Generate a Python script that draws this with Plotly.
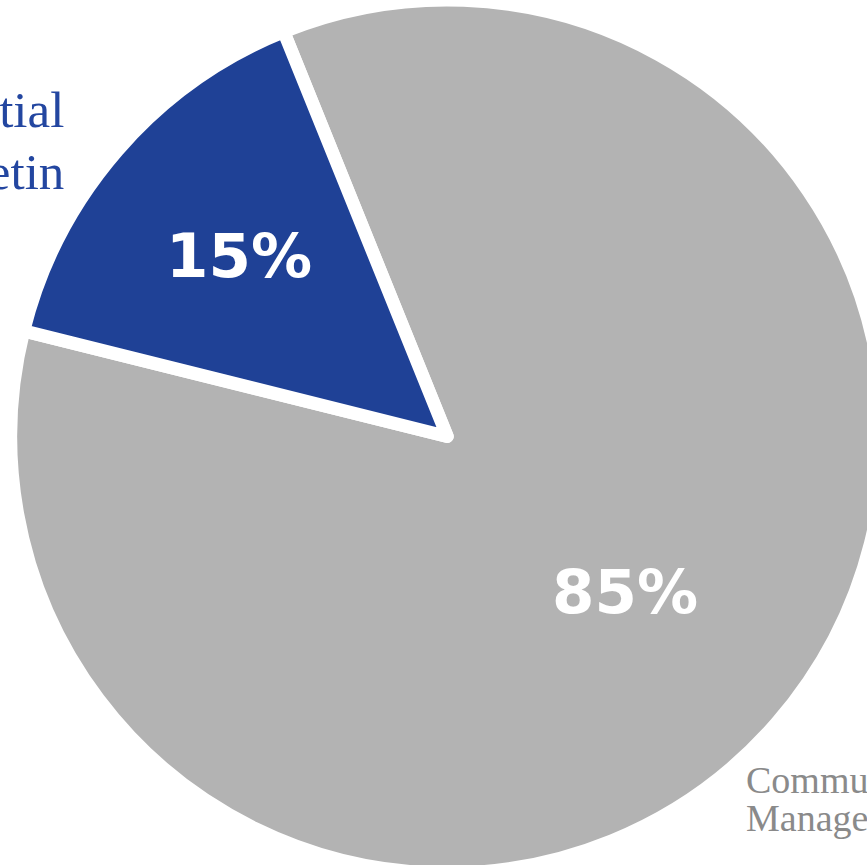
import math
import plotly.graph_objects as go

categories = ["Community Management", "Potential Bulletin"]
values = [85, 15]
colors = ["#b3b3b3", "#1f4196"]
rotation = -22

W, H = 884, 873
CX, CY, R = 447.0, 436.5, 436.5   # pie centre/radius in px (domain below)

fig = go.Figure(go.Pie(
    labels=categories,
    values=values,
    sort=False,
    direction="clockwise",
    rotation=rotation,
    marker=dict(colors=colors, line=dict(color="white", width=13)),
    textinfo="none",
    showlegend=False,
    hoverinfo="label+percent",
    domain=dict(x=[10.5 / W, 1], y=[0, 1]),
))

def px(x, y):
    return x / W, 1 - y / H

ann = []
# percentage labels placed along each slice's bisector
total = sum(values)
start = rotation
radial_frac = [0.54, 0.632]
for v, f in zip(values, radial_frac):
    span = 360 * v / total
    mid = math.radians(start + span / 2)
    start += span
    x, y = px(CX + f * R * math.sin(mid), CY - f * R * math.cos(mid))
    ann.append(dict(text=f"{round(100 * v / total)}%", x=x, y=y, xref="paper", yref="paper",
                    xanchor="center", yanchor="middle", showarrow=False,
                    font=dict(family="DejaVu Sans", size=61, color="white", weight="bold")))

# left label (blue, cropped)
for txt, yy in [("Potential", 110), ("Bulletin", 172)]:
    x, y = px(66, yy)
    ann.append(dict(text=txt, x=x, y=y, xref="paper", yref="paper", xanchor="right", yanchor="middle",
                    showarrow=False, font=dict(family="Liberation Serif", size=51, color="#2346a0")))
# right label (grey, cropped)
for txt, yy in [("Community", 780), ("Management", 818)]:
    x, y = px(744, yy)
    ann.append(dict(text=txt, x=x, y=y, xref="paper", yref="paper", xanchor="left", yanchor="middle",
                    showarrow=False, font=dict(family="Liberation Serif", size=38, color="#8a8a8a")))

fig.update_layout(
    width=W, height=H,
    margin=dict(l=0, r=0, t=0, b=0),
    paper_bgcolor="white", plot_bgcolor="white",
    annotations=ann,
)

fig.write_html("out.html", post_script="document.body.style.margin='0';document.body.style.overflow='hidden';document.documentElement.style.overflow='hidden';")
